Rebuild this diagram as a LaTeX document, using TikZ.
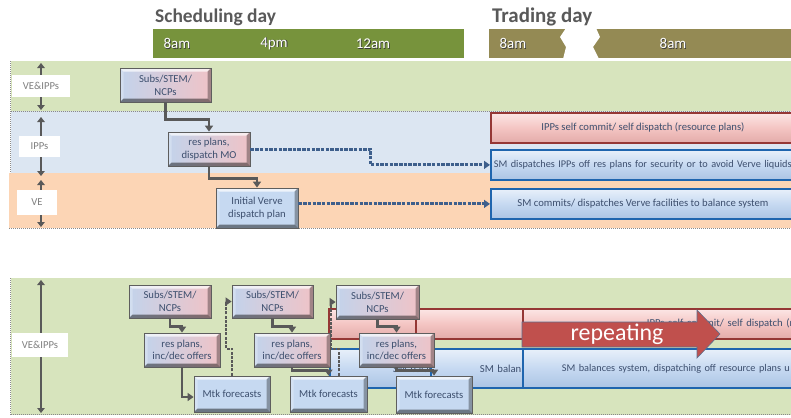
\documentclass[tikz,border=0pt]{standalone}
\usepackage{fontspec}
\setmainfont{Carlito}
\usetikzlibrary{arrows.meta}

\definecolor{titlegray}{HTML}{595959}
\definecolor{schedgreen}{HTML}{77933C}
\definecolor{tradeolive}{HTML}{948A54}
\definecolor{rowgreen}{HTML}{D7E4BD}
\definecolor{rowblue}{HTML}{DCE6F2}
\definecolor{roworange}{HTML}{FCD5B5}
\definecolor{labeltext}{HTML}{7F7F7F}
\definecolor{edgegray}{HTML}{5E5E5E}
\definecolor{boxblue}{HTML}{C3D3EB}
\definecolor{boxpink}{HTML}{EFC3C7}
\definecolor{mtkblue}{HTML}{C6D9F1}
\definecolor{textnavy}{HTML}{3D4F6E}
\definecolor{pinkfill}{HTML}{F4C5C3}
\definecolor{pinktop}{HTML}{FCE6E5}
\definecolor{pinkbot}{HTML}{E3ABA9}
\definecolor{pinkedge}{HTML}{953735}
\definecolor{bluefill}{HTML}{C6D9F1}
\definecolor{bluetop}{HTML}{E8F0FA}
\definecolor{bluebot}{HTML}{ABC4E4}
\definecolor{blueedge}{HTML}{1F65AE}
\definecolor{arrowred}{HTML}{C0504D}
\definecolor{arrowedge}{HTML}{5B6F8E}
\definecolor{conngray}{HTML}{595959}
\definecolor{dashblue}{HTML}{3E5F8C}
\definecolor{embshadow}{HTML}{3A3A3A}
\definecolor{sepgray}{HTML}{8A8A8A}

\newcommand\bxfont{\fontsize{10.7}{12.8}\selectfont}
\newcommand\emb[1]{\makebox[0pt][l]{\kern0.8bp\raisebox{-0.8bp}{\textcolor{embshadow}{#1}}}#1}

\tikzset{
  bevel/.style={path picture={
    \path (path picture bounding box.north west) coordinate (bvA)
          (path picture bounding box.north east) coordinate (bvB)
          (path picture bounding box.south east) coordinate (bvC)
          (path picture bounding box.south west) coordinate (bvD);
    \fill[white,opacity=.7] (bvA) -- (bvB) -- ([xshift=-3.5bp,yshift=-3.5bp]bvB) -- ([xshift=3.5bp,yshift=-3.5bp]bvA) -- cycle;
    \fill[white,opacity=.25] (bvA) -- ([xshift=3.5bp,yshift=-3.5bp]bvA) -- ([xshift=3.5bp,yshift=3.5bp]bvD) -- (bvD) -- cycle;
    \fill[black,opacity=.45] (bvD) -- (bvC) -- ([xshift=-3.5bp,yshift=3.5bp]bvC) -- ([xshift=3.5bp,yshift=3.5bp]bvD) -- cycle;
    \fill[black,opacity=.32] (bvB) -- (bvC) -- ([xshift=-3.5bp,yshift=3.5bp]bvC) -- ([xshift=-3.5bp,yshift=-3.5bp]bvB) -- cycle;
  }},
  planbox/.style={bevel, draw=edgegray, line width=0.8bp, left color=boxblue, right color=boxpink,
    inner sep=0pt, align=center, text=textnavy, font=\bxfont},
  mtkbox/.style={planbox, left color=mtkblue, right color=mtkblue},
  pinkbar/.style={draw=pinkedge, line width=1.8bp, top color=pinktop, bottom color=pinkbot, middle color=pinkfill,
    inner sep=0pt, text=textnavy, font=\bxfont, anchor=north west},
  bluebar/.style={pinkbar, draw=blueedge, top color=bluetop, bottom color=bluebot, middle color=bluefill},
  conn/.style={draw=conngray, line width=2.6bp, -{Triangle[length=6bp,width=8bp]}},
  connd/.style={conn, line width=2bp, dash pattern=on 3bp off 1.2bp},
  dashconn/.style={draw=dashblue, line width=3bp, dash pattern=on 3.5bp off 1.2bp, -{Triangle[length=6bp,width=8bp]}},
  lblarrow/.style={draw=conngray, line width=2.6bp, {Triangle[length=5bp,width=7.5bp]}-{Triangle[length=5bp,width=7.5bp]}},
  lbl/.style={fill=white, text=labeltext, font=\bxfont, inner sep=0pt},
  tl/.style={text=white, font=\fontsize{15}{18}\selectfont, inner sep=0pt},
  ttl/.style={text=titlegray, font=\bfseries\fontsize{19.5}{22}\selectfont, inner sep=0pt, anchor=base west},
  sep/.style={draw=sepgray, line width=0.9bp, dash pattern=on 1bp off 1bp},
}

\begin{document}
\begin{tikzpicture}[x=1bp,y=-1bp]
\clip (0,0) rectangle (791,417);
\fill[white] (0,0) rectangle (791,417);

% headings
\node[ttl] (sday) at (155,22) {Scheduling day};
\node[ttl, font=\bfseries\fontsize{21}{24}\selectfont] (tday) at (492,22) {Trading day};

% time line bars with the break in the trading day
\fill[schedgreen] (153,29) rectangle (464,58);
\fill[tradeolive] (489,29) rectangle (791,58);
\fill[white] (566,28) -- (596,28) -- (600,37) -- (593,47) -- (599,59) -- (563,59) -- (566,47) -- (560,37) -- cycle;
\node[tl] (h1) at (177,44) {\emb{8am}};
\node[tl] (h2) at (274,44) {\emb{4pm}};
\node[tl] (h3) at (373,44) {\emb{12am}};
\node[tl] (h4) at (513,44) {\emb{8am}};
\node[tl] (h5) at (673,44) {\emb{8am}};

% upper panel rows
\fill[rowgreen] (10.5,61) rectangle (791,111);
\fill[rowblue] (10.5,111) rectangle (791,173);
\fill[roworange] (9,173) rectangle (791,228);
\draw[sep] (10.5,61) -- (10.5,173);
\draw[sep] (10.5,111) -- (791,111);
\draw[sep] (9,228) -- (791,228);

% lower panel
\fill[rowgreen] (10.5,278) rectangle (791,415);
\draw[sep] (10.5,278) -- (10.5,415);
\draw[sep] (10.5,414.5) -- (791,414.5);

% row extents and labels
\draw[lblarrow] (41,63) -- (41,110);
\draw[lblarrow] (41,117) -- (41,176);
\draw[lblarrow] (41,180) -- (41,227);
\draw[lblarrow] (41,280) -- (41,413);
\node[lbl, minimum width=58bp, minimum height=22bp] (lvi) at (41,86) {VE\&IPPs};
\node[lbl, minimum width=41bp, minimum height=21bp] (lipp) at (39.5,146.5) {IPPs};
\node[lbl, minimum width=40bp, minimum height=25bp] (lve) at (37,202.5) {VE};
\node[lbl, minimum width=56bp, minimum height=24bp] (lvi2) at (40,345) {VE\&IPPs};

% upper panel: scheduling day steps
\node[planbox, minimum width=91bp, minimum height=34bp] (subsT) at (165.5,85) {Subs/STEM/\\NCPs};
\node[planbox, minimum width=82bp, minimum height=34bp] (resT) at (209,149) {res plans,\\dispatch MO};
\node[mtkbox, minimum width=82bp, minimum height=40bp] (ivT) at (257,208) {Initial Verve\\dispatch plan};

% upper panel: trading day activities
\node[pinkbar, minimum width=304bp, minimum height=30bp] (selfT) at (490,112) {IPPs self commit/ self dispatch (resource plans)};
\node[bluebar, minimum height=30bp, text width=400bp, align=left, inner xsep=3bp, font=\fontsize{10.3}{12}\selectfont] (sdisp) at (490,149) {SM dispatches IPPs off res plans for security or to avoid Verve liquids};
\node[bluebar, minimum width=304bp, minimum height=30bp] (scomm) at (490,188) {SM commits/ dispatches Verve facilities to balance system};

\draw[conn] (subsT.south) |- ([yshift=12bp]resT.north) -- (resT.north);
\draw[conn] (resT.south) |- ([yshift=9bp]ivT.north) -- (ivT.north);
\draw[dashconn] (resT.east) -- ++(120,0) |- (sdisp.west);
\draw[dashconn] (ivT.east |- scomm.west) -- (scomm.west);

% lower panel: overlapping trading day activities
\node[pinkbar, minimum width=480bp, minimum height=30bp] (pkA) at (328,308) {};
\node[bluebar, minimum height=39bp, text width=420bp, align=left, inner xsep=63bp] (blA) at (329,348) {SM balan};
\node[pinkbar, minimum width=400bp, minimum height=30bp] (pkB) at (415,308) {};
\node[bluebar, minimum height=39bp, text width=420bp, align=left, inner xsep=49bp] (blB) at (430,348) {SM balan};
\node[pinkbar, minimum height=30bp, text width=300bp, align=left, inner xsep=124bp] (pkC) at (522,308) {IPPs self commit/ self dispatch (resource plans)};
\node[bluebar, minimum height=39bp, text width=300bp, align=left, inner xsep=39bp, font=\fontsize{10.3}{12}\selectfont] (blC) at (522,348) {SM balances system, dispatching off resource plans u};

% repeating block arrow
\draw[fill=arrowred, draw=arrowedge, line width=0.6bp] (522,322) -- (697,322) -- (697,310) -- (720,334) -- (697,358) -- (697,347) -- (522,347) -- cycle;
\node[text=white, font=\fontsize{24}{28}\selectfont, inner sep=0pt, anchor=base] (rep) at (617,340) {repeating};

% lower panel: rolling cycle of steps
\node[planbox, minimum width=82bp, minimum height=33bp] (s1) at (170,301.5) {Subs/STEM/\\NCPs};
\node[planbox, minimum width=76bp, minimum height=34bp] (r1) at (182,350) {res plans,\\inc/dec offers};
\node[mtkbox, minimum width=76bp, minimum height=36bp] (m1) at (232,394) {Mtk forecasts};
\node[planbox, minimum width=81bp, minimum height=33bp] (s2) at (272.5,301.5) {Subs/STEM/\\NCPs};
\node[planbox, minimum width=76bp, minimum height=34bp] (r2) at (292,350) {res plans,\\inc/dec offers};
\node[mtkbox, minimum width=77bp, minimum height=36bp] (m2) at (328.5,394) {Mtk forecasts};
\node[planbox, minimum width=83bp, minimum height=34bp] (s3) at (377.5,302) {Subs/STEM/\\NCPs};
\node[planbox, minimum width=75bp, minimum height=34bp] (r3) at (396.5,350) {res plans,\\inc/dec offers};
\node[mtkbox, minimum width=76bp, minimum height=37bp] (m3) at (434,394.5) {Mtk forecasts};

\draw[conn] (s1.south) |- ([yshift=6bp]r1.north) -- (r1.north);
\draw[conn] (r1.south) |- ([yshift=-3bp]m1.west);
\draw[connd] (m1.north) -- ++(0,-27) -- ++(-6,0) |- (s2.west);
\draw[conn] (s2.south) |- ([yshift=6bp]r2.north) -- (r2.north);
\draw[conn] (r2.south) |- ([yshift=5bp]m2.north) -- (m2.north);
\draw[connd] ([xshift=10bp]m2.north) -- ++(0,-27) -- ++(-8,0) |- (s3.west);
\draw[conn] (s3.south) |- ([yshift=6bp]r3.north) -- (r3.north);
\draw[conn] (r3.south) |- ([yshift=5bp]m3.north) -- (m3.north);
\end{tikzpicture}
\end{document}
